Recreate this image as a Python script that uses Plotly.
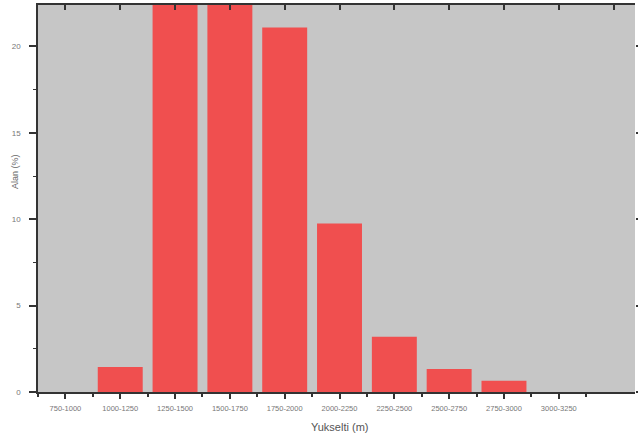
import plotly.graph_objects as go

categories = ["750-1000", "1000-1250", "1250-1500", "1500-1750", "1750-2000",
              "2000-2250", "2250-2500", "2500-2750", "2750-3000", "3000-3250"]
values = [0.0, 1.45, 32.0, 30.5, 21.1, 9.75, 3.2, 1.33, 0.65, 0.0]
y_ticks = [0, 5, 10, 15, 20]

xpos = list(range(len(categories)))
half = [i + 0.5 for i in range(-1, len(categories) + 1)]
x_range = [-0.5, 10.39]

font = "Liberation Sans, Arial"
W, H = 638, 436

fig = go.Figure()
fig.add_trace(go.Bar(
    x=xpos, y=values, width=0.82,
    marker=dict(color="#f04f4f", line=dict(width=0)),
    showlegend=False,
))
fig.add_trace(go.Scatter(x=[], y=[], xaxis="x2", yaxis="y2", showlegend=False))

fig.update_layout(
    width=W, height=H,
    margin=dict(l=38, r=3, t=5, b=44),
    paper_bgcolor="white",
    plot_bgcolor="#c6c6c6",
    xaxis=dict(
        automargin=False,
        range=x_range,
        tickvals=xpos, ticktext=categories,
        ticks="outside", ticklen=5, tickwidth=1.5, tickcolor="#333",
        ticklabelstandoff=3,
        minor=dict(tickvals=half, ticks="outside", ticklen=3, tickcolor="#333", tickwidth=1.5),
        showgrid=False, zeroline=False,
        showline=True, linecolor="#333", linewidth=1.5,
        tickfont=dict(family=font, size=7.5, color="#777"),
    ),
    xaxis2=dict(
        automargin=False,
        overlaying="x", side="top", range=x_range,
        tickvals=xpos + [10], showticklabels=False,
        ticks="inside", ticklen=5, tickwidth=1.5, tickcolor="#333",
        showgrid=False, zeroline=False,
        showline=True, linecolor="#333", linewidth=1.5,
    ),
    yaxis=dict(
        automargin=False,
        range=[0, 22.4],
        tickvals=y_ticks,
        ticks="outside", ticklen=7, tickwidth=1.5, tickcolor="#333",
        ticklabelstandoff=7,
        minor=dict(dtick=2.5, ticks="outside", ticklen=3, tickcolor="#333", tickwidth=1),
        showgrid=False, zeroline=False,
        showline=True, linecolor="#333", linewidth=1.5,
        tickfont=dict(family=font, size=8, color="#777"),
    ),
    yaxis2=dict(
        automargin=False,
        overlaying="y", side="right", range=[0, 22.4],
        tickvals=y_ticks, showticklabels=False,
        ticks="outside", ticklen=6, tickwidth=1.5, tickcolor="#333",
        showgrid=False, zeroline=False, showline=False,
    ),
    annotations=[
        dict(text="Yukselti (m)", xref="paper", yref="paper",
             x=(339 - 38) / (W - 41), y=-(427 - (H - 44)) / (H - 49),
             xanchor="center", yanchor="middle", showarrow=False,
             font=dict(family=font, size=11, color="#555")),
        dict(text="Alan (%)", xref="paper", yref="paper",
             x=-(38 - 15) / (W - 41), y=(H - 44 - 172) / (H - 49),
             xanchor="center", yanchor="middle", showarrow=False, textangle=-90,
             font=dict(family=font, size=9, color="#666")),
    ],
)

fig.write_html("out.html", config={"displayModeBar": False},
               post_script="document.body.style.margin='0';")
